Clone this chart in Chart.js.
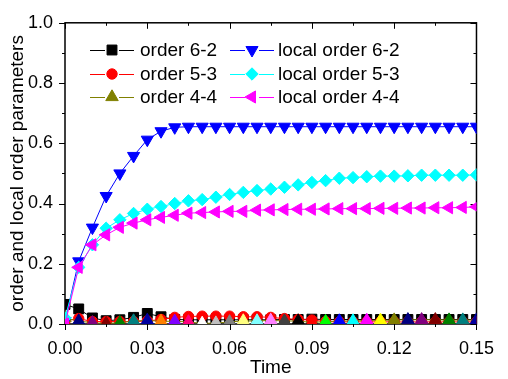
<!DOCTYPE html>
<html>
<head>
<meta charset="utf-8">
<script src="https://cdn.jsdelivr.net/npm/chart.js@4.4.0/dist/chart.umd.min.js"></script>
<style>
    html, body { margin: 0; padding: 0; background: #fff; }
    #wrap { width: 508px; height: 379px; position: relative; }
</style>
</head>
<body>
<div id="wrap"><canvas id="orderChart"></canvas></div>
<script>
// --- Data ---
const timeSteps = [0, 0.005, 0.01, 0.015, 0.02, 0.025, 0.03, 0.035, 0.04, 0.045,
    0.05, 0.055, 0.06, 0.065, 0.07, 0.075, 0.08, 0.085, 0.09, 0.095,
    0.1, 0.105, 0.11, 0.115, 0.12, 0.125, 0.13, 0.135, 0.14, 0.145, 0.15];

const order62 = [0.065, 0.05, 0.02, 0.011, 0.014, 0.022, 0.035, 0.024, 0.015, 0.014,
    0.014, 0.014, 0.014, 0.014, 0.014, 0.014, 0.015, 0.015, 0.016, 0.015,
    0.015, 0.015, 0.015, 0.015, 0.015, 0.015, 0.015, 0.015, 0.015, 0.015, 0.015];

const order53 = [0.01, 0.018, 0.008, 0.008, 0.008, 0.008, 0.01, 0.015, 0.022, 0.025,
    0.026, 0.026, 0.026, 0.024, 0.024, 0.022, 0.018, 0.015, 0.013, 0.008,
    0.007, 0.007, 0.007, 0.007, 0.007, 0.007, 0.007, 0.007, 0.007, 0.007, 0.007];

const order44 = [0.02, 0.01, 0.004, 0.002, 0.004, 0.01, 0.012, 0.009, 0.009, 0.007,
    0.002, 0.003, 0.007, 0.01, 0.01, 0.012, 0.01, 0.01, 0.005, 0.008,
    0.01, 0.01, 0.012, 0.012, 0.013, 0.014, 0.014, 0.014, 0.013, 0.013, 0.013];

const localOrder62 = [0.01, 0.208, 0.32, 0.425, 0.5, 0.558, 0.612, 0.64, 0.653, 0.655,
    0.655, 0.655, 0.655, 0.655, 0.655, 0.655, 0.655, 0.655, 0.655, 0.655,
    0.655, 0.655, 0.655, 0.655, 0.655, 0.655, 0.655, 0.655, 0.655, 0.655, 0.655];

const localOrder53 = [0.02, 0.188, 0.263, 0.318, 0.346, 0.367, 0.381, 0.39, 0.4, 0.409,
    0.413, 0.421, 0.43, 0.437, 0.443, 0.448, 0.454, 0.462, 0.47, 0.476,
    0.484, 0.486, 0.489, 0.491, 0.491, 0.492, 0.494, 0.494, 0.494, 0.494, 0.495];

const localOrder44 = [0.0, 0.188, 0.263, 0.296, 0.321, 0.335, 0.346, 0.354, 0.361, 0.368,
    0.37, 0.372, 0.374, 0.374, 0.378, 0.379, 0.38, 0.381, 0.381, 0.382,
    0.383, 0.383, 0.383, 0.384, 0.384, 0.385, 0.385, 0.386, 0.386, 0.387, 0.389];

const xTicks = [0, 0.03, 0.06, 0.09, 0.12, 0.15];
const yTicks = [0, 0.2, 0.4, 0.6, 0.8, 1.0];

// Origin's default colour list, used for the "increment by point" triangles
const originPalette = ['#000000', '#ff0000', '#00ff00', '#0000ff', '#00ffff', '#ff00ff',
    '#ffff00', '#808000', '#000080', '#800080', '#800000', '#008000', '#008080', '#0000a0',
    '#ff8000', '#8000ff', '#ff0080', '#ffffff', '#c0c0c0', '#808080', '#ffff80', '#80ffff',
    '#ff80ff', '#404040'];
const tri44Colors = timeSteps.map((_, i) => originPalette[(i + 7) % originPalette.length]);

const FONT = "'Liberation Sans', Arial, sans-serif";

function toPoints(values) {
    return values.map((v, i) => ({ x: timeSteps[i], y: v }));
}

function makeSeries(label, values, color, style, radius, rotation, order) {
    return {
        label: label,
        data: toPoints(values),
        borderColor: color,
        backgroundColor: color,
        borderWidth: 1,
        pointStyle: style,
        pointRotation: rotation,
        pointRadius: radius,
        pointHoverRadius: radius,
        pointBackgroundColor: color,
        pointBorderColor: color,
        pointBorderWidth: 1,
        legendColor: color,
        tension: 0,
        order: order
    };
}

const datasets = [
    makeSeries('order 6-2', order62, '#000000', 'rect', 7, 0, 5),
    makeSeries('order 5-3', order53, '#ff0000', 'circle', 5.2, 0, 4),
    makeSeries('order 4-4', order44, '#808000', 'triangle', 7.2, 0, 3),
    makeSeries('local order 6-2', localOrder62, '#0000ff', 'triangle', 7, 180, 2),
    makeSeries('local order 5-3', localOrder53, '#00ffff', 'rectRot', 6.2, 0, 1),
    makeSeries('local order 4-4', localOrder44, '#ff00ff', 'triangle', 7, 270, 0)
];
datasets[2].pointBackgroundColor = tri44Colors;
datasets[2].pointBorderColor = tri44Colors;

// --- Frame with inward/outward major and minor ticks ---
const frameTicks = {
    id: 'frameTicks',
    beforeDatasetsDraw(chart) {
        const { ctx, chartArea: a, scales: { x, y } } = chart;
        ctx.save();
        ctx.strokeStyle = '#000';
        ctx.lineWidth = 1;
        ctx.beginPath();
        for (let i = 0; i <= 10; i++) {
            const px = Math.round(x.getPixelForValue(i * 0.015)) + 0.5;
            const len = i % 2 === 0 ? 6 : 3;
            ctx.moveTo(px, a.bottom); ctx.lineTo(px, a.bottom + len);
            ctx.moveTo(px, a.top); ctx.lineTo(px, a.top + len);
        }
        for (let i = 0; i <= 10; i++) {
            const py = Math.round(y.getPixelForValue(i * 0.1)) + 0.5;
            const len = i % 2 === 0 ? 6 : 3;
            ctx.moveTo(a.left, py); ctx.lineTo(a.left - len, py);
            ctx.moveTo(a.right, py); ctx.lineTo(a.right - len, py);
        }
        ctx.stroke();
        ctx.lineWidth = 1.5;
        ctx.strokeRect(a.left, a.top, a.right - a.left, a.bottom - a.top);
        ctx.restore();
    }
};

// --- Origin style legend: line - marker - line, two columns ---
const originLegend = {
    id: 'originLegend',
    afterDraw(chart) {
        const ctx = chart.ctx;
        const cols = [{ sx: 90, tx: 140 }, { sx: 230, tx: 278 }];
        const rows = [50, 74, 97];
        ctx.save();
        ctx.font = '19px ' + FONT;
        ctx.textBaseline = 'middle';
        chart.data.datasets.forEach((ds, i) => {
            const col = cols[Math.floor(i / 3)];
            const ry = rows[i % 3];
            const mx = col.sx + 22;
            ctx.strokeStyle = ds.borderColor;
            ctx.lineWidth = 1;
            ctx.beginPath();
            ctx.moveTo(col.sx, ry + 0.5); ctx.lineTo(col.sx + 15, ry + 0.5);
            ctx.moveTo(col.sx + 29, ry + 0.5); ctx.lineTo(col.sx + 44, ry + 0.5);
            ctx.stroke();
            ctx.fillStyle = ds.legendColor;
            ctx.strokeStyle = ds.legendColor;
            Chart.helpers.drawPoint(ctx, {
                pointStyle: ds.pointStyle,
                rotation: ds.pointRotation,
                radius: ds.pointRadius,
                borderWidth: 1
            }, mx, ry);
            ctx.fillStyle = '#000';
            ctx.fillText(ds.label, col.tx, ry + 1);
        });
        ctx.restore();
    }
};

document.addEventListener('DOMContentLoaded', () => {
    const ctx = document.getElementById('orderChart').getContext('2d');
    new Chart(ctx, {
        type: 'line',
        data: { datasets: datasets },
        options: {
            responsive: true,
            maintainAspectRatio: false,
            animation: false,
            layout: { padding: { top: 16, right: 20, left: 0, bottom: 0 } },
            plugins: { legend: { display: false }, tooltip: { enabled: false } },
            scales: {
                x: {
                    type: 'linear',
                    min: 0,
                    max: 0.15,
                    afterBuildTicks: s => { s.ticks = xTicks.map(v => ({ value: v })); },
                    afterFit: s => { s.height = 55; },
                    grid: { display: false, drawTicks: false },
                    border: { display: false },
                    ticks: {
                        padding: 14,
                        color: '#000',
                        font: { family: FONT, size: 18 },
                        maxRotation: 0,
                        callback: v => Number(v).toFixed(2)
                    },
                    title: {
                        display: true,
                        text: 'Time',
                        color: '#000',
                        font: { family: FONT, size: 19 },
                        padding: { top: 0, bottom: 0 }
                    }
                },
                y: {
                    type: 'linear',
                    min: 0,
                    max: 1,
                    afterBuildTicks: s => { s.ticks = yTicks.map(v => ({ value: v })); },
                    afterFit: s => { s.width = 65; },
                    grid: { display: false, drawTicks: false },
                    border: { display: false },
                    ticks: {
                        padding: 12,
                        color: '#000',
                        font: { family: FONT, size: 18 },
                        callback: v => Number(v).toFixed(1)
                    },
                    title: {
                        display: true,
                        text: 'order and local order parameters',
                        color: '#000',
                        font: { family: FONT, size: 19 },
                        padding: { top: 6, bottom: 0 }
                    }
                }
            }
        },
        plugins: [frameTicks, originLegend]
    });
});
</script>
</body>
</html>
